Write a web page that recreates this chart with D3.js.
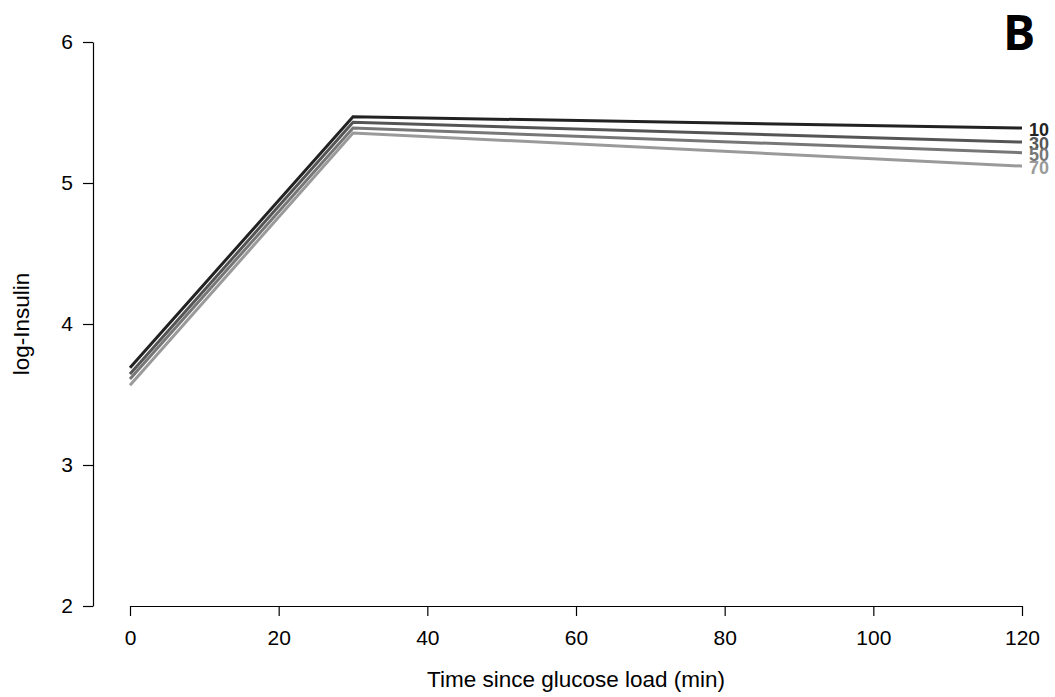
<!DOCTYPE html>
<html>
<head>
<meta charset="utf-8">
<script src="https://cdn.jsdelivr.net/npm/d3@7"></script>
<style>
  body { margin: 0; background: white; }
  text { font-family: "Liberation Sans", Arial, sans-serif; }
</style>
</head>
<body>
<div id="container"></div>
<script>
let w = 1055;
let h = 697;

// DATA
let times = [0, 30, 120];
let groups = ["10", "30", "50", "70"];
let colors = ["#222222", "#555555", "#777777", "#9a9a9a"];
let val10 = [3.69, 5.47, 5.39];
let val30 = [3.645, 5.43, 5.29];
let val50 = [3.61, 5.39, 5.215];
let val70 = [3.565, 5.355, 5.12];
let xTicks = [0, 20, 40, 60, 80, 100, 120];
let yTicks = [2, 3, 4, 5, 6];

let series = [val10, val30, val50, val70];

let viz = d3.select("#container").append("svg")
    .attr("width", w)
    .attr("height", h)
    .style("background-color", "white");

let xScale = d3.scaleLinear().domain([0, 120]).range([130, 1022]);
let yScale = d3.scaleLinear().domain([2, 6]).range([606, 42]);

// x axis
let xAxis = viz.append("g")
    .attr("transform", "translate(0,606)")
    .call(d3.axisBottom(xScale).tickValues(xTicks).tickSize(10).tickPadding(14).tickSizeOuter(0));
xAxis.select(".domain").attr("stroke", "#000").attr("stroke-width", 1.2);
xAxis.selectAll("line").attr("stroke-width", 1.2);
xAxis.selectAll("text").style("font-size", "21px").attr("fill", "#000");

// y axis
let yAxis = viz.append("g")
    .attr("transform", "translate(93,0)")
    .call(d3.axisLeft(yScale).tickValues(yTicks).tickFormat(d3.format("d")).tickSize(10).tickPadding(10).tickSizeOuter(0));
yAxis.select(".domain").attr("stroke", "#000").attr("stroke-width", 1.2);
yAxis.selectAll("line").attr("stroke-width", 1.2);
yAxis.selectAll("text").style("font-size", "21px").attr("fill", "#000");

// axis titles
viz.append("text")
    .attr("x", 576).attr("y", 687)
    .attr("text-anchor", "middle")
    .style("font-size", "22.5px")
    .text("Time since glucose load (min)");

viz.append("text")
    .attr("transform", "translate(29,324) rotate(-90)")
    .attr("text-anchor", "middle")
    .style("font-size", "22.5px")
    .text("log-Insulin");

// lines
let lineMaker = d3.line()
    .x(function(d, i){ return xScale(times[i]); })
    .y(function(d){ return yScale(d); });

series.slice().reverse().forEach(function(s, k){
  let i = series.length - 1 - k;
  viz.append("path")
    .attr("d", lineMaker(s))
    .attr("fill", "none")
    .attr("stroke", colors[i])
    .attr("stroke-width", 3);
});

// end labels
series.forEach(function(s, i){
  viz.append("text")
    .attr("x", 1029)
    .attr("y", yScale(s[s.length - 1]) + 2)
    .attr("dominant-baseline", "central")
    .style("font-size", "18px")
    .style("font-weight", "bold")
    .attr("fill", colors[i])
    .text(groups[i]);
});

// panel letter
viz.append("text")
    .attr("x", 1019).attr("y", 50)
    .attr("text-anchor", "middle")
    .style("font-family", "'Open Sans', 'DejaVu Sans', sans-serif")
    .style("font-size", "48px")
    .style("font-weight", "bold")
    .text("B");
</script>
</body>
</html>
